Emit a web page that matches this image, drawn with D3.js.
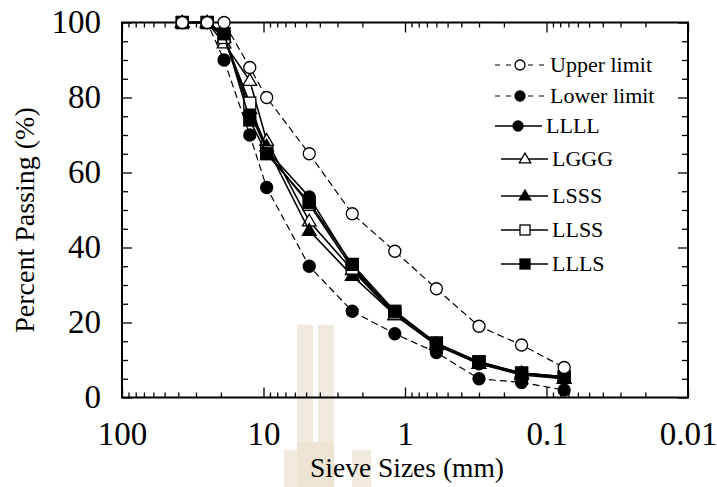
<!DOCTYPE html>
<html>
<head>
<meta charset="utf-8">
<script src="https://cdn.jsdelivr.net/npm/d3@7"></script>
<style>
  html, body { margin: 0; padding: 0; background: #fff; }
  svg { display: block; }
  text { font-family: "Liberation Serif", "Times New Roman", serif; fill: #000; }
</style>
</head>
<body>
<svg id="chart" width="717" height="487"></svg>
<script>
// Sieve sizes (mm) and percent passing for each gradation
const sieveSizes = [37.5, 25, 19, 12.5, 9.5, 4.75, 2.36, 1.18, 0.6, 0.3, 0.15, 0.075];
const upperLimit = [100, 100, 100, 88, 80, 65, 49, 39, 29, 19, 14, 8];
const lowerLimit = [100, 100, 90, 70, 56, 35, 23, 17, 12, 5, 4, 2];
const llll = [100, 100, 97, 76, 66, 53.5, 35, 22.5, 14.5, 9, 6.5, 5.5];
const lggg = [100, 100, 94.5, 84.5, 68.5, 47, 34, 22, 14, 9, 6, 5];
const lsss = [100, 100, 96, 77, 67, 44.5, 32.5, 22, 14, 9, 6.5, 5];
const llss = [100, 100, 96, 78.5, 65.5, 51.5, 34.5, 22.5, 14.5, 9.5, 6.5, 5.5];
const llls = [100, 100, 97, 74, 65, 52, 35.5, 23, 14.5, 9.5, 6.5, 5.5];

const xTickLabels = [100, 10, 1, 0.1, 0.01];
const yTickLabels = [0, 20, 40, 60, 80, 100];
const seriesNames = ["Upper limit", "Lower limit", "LLLL", "LGGG", "LSSS", "LLSS", "LLLS"];

const svg = d3.select("#chart");
const plotLeft = 122, plotRight = 688, plotTop = 22.5, plotBottom = 397.5;

const x = d3.scaleLog().domain([100, 0.01]).range([plotLeft, plotRight]);
const y = d3.scaleLinear().domain([0, 100]).range([plotBottom, plotTop]);

// faint background emblem
const emblem = svg.append("g").attr("fill", "#f1ebdf");
emblem.append("rect").attr("x", 297).attr("y", 325).attr("width", 16).attr("height", 162);
emblem.append("rect").attr("x", 318).attr("y", 325).attr("width", 16).attr("height", 162);
emblem.append("rect").attr("x", 284).attr("y", 450).attr("width", 19).attr("height", 37);
emblem.append("rect").attr("x", 352).attr("y", 450).attr("width", 19).attr("height", 37);
emblem.append("rect").attr("x", 297).attr("y", 442).attr("width", 37).attr("height", 45).attr("fill", "#ede4d4");

// minor / major tick values
const xMinor = [];
for (const d of [10, 1, 0.1, 0.01]) for (let k = 2; k <= 9; k++) xMinor.push(d * k);
const yMinor = d3.range(0, 101, 5).filter(v => v % 20 !== 0);

function addAxis(gen, tx, ty, values, size, labels) {
  const g = svg.append("g").attr("transform", `translate(${tx},${ty})`)
    .call(gen.tickValues(values).tickSizeInner(size).tickSizeOuter(0)
      .tickFormat(labels ? d => (d >= 1 ? d3.format("d")(d) : String(d)) : ""));
  g.select(".domain").remove();
  g.selectAll(".tick line").attr("stroke", "#000").attr("stroke-width", 1.3);
  return g;
}

// inward-pointing ticks on all four sides
addAxis(d3.axisBottom(x), 0, plotBottom, xMinor, -5, false);
addAxis(d3.axisTop(x), 0, plotTop, xMinor, -5, false);
addAxis(d3.axisTop(x), 0, plotTop, xTickLabels, -10, false);
const xAxis = addAxis(d3.axisBottom(x), 0, plotBottom, xTickLabels, -10, true);
xAxis.selectAll(".tick text").attr("y", 0).attr("dy", 0)
  .attr("transform", "translate(0,47)")
  .style("font-size", "33px").style("font-family", "Liberation Serif");

addAxis(d3.axisLeft(y), plotLeft, 0, yMinor, -6, false);
addAxis(d3.axisRight(y), plotRight, 0, yMinor, -6, false);
addAxis(d3.axisRight(y), plotRight, 0, yTickLabels, -10, false);
const yAxis = addAxis(d3.axisLeft(y), plotLeft, 0, yTickLabels, -10, true);
yAxis.selectAll(".tick text").attr("x", -21).attr("dy", "0.3em")
  .style("font-size", "33px").style("font-family", "Liberation Serif");

// frame
svg.append("rect").attr("x", plotLeft).attr("y", plotTop)
  .attr("width", plotRight - plotLeft).attr("height", plotBottom - plotTop)
  .attr("fill", "none").attr("stroke", "#000").attr("stroke-width", 2);

// axis titles
svg.append("text").attr("x", 407).attr("y", 477).attr("text-anchor", "middle")
  .style("font-size", "27.5px").text("Sieve Sizes (mm)");
svg.append("text").attr("transform", "translate(34,220) rotate(-90)").attr("text-anchor", "middle")
  .style("font-size", "28px").text("Percent Passing (%)");

// marker drawing
function marker(g, type, cx, cy, s) {
  if (type === "circle-open" || type === "circle-filled") {
    g.append("circle").attr("cx", cx).attr("cy", cy).attr("r", s)
      .attr("fill", type === "circle-open" ? "#fff" : "#000").attr("stroke", "#000").attr("stroke-width", 1.3);
  } else if (type === "square-open" || type === "square-filled") {
    g.append("rect").attr("x", cx - s).attr("y", cy - s).attr("width", 2 * s).attr("height", 2 * s)
      .attr("fill", type === "square-open" ? "#fff" : "#000").attr("stroke", "#000").attr("stroke-width", 1.3);
  } else {
    const h = s * 1.8, w = s * 2.1;
    g.append("path")
      .attr("d", `M${cx},${cy - h * 0.6}L${cx + w / 2},${cy + h * 0.4}L${cx - w / 2},${cy + h * 0.4}Z`)
      .attr("fill", type === "tri-open" ? "#fff" : "#000").attr("stroke", "#000").attr("stroke-width", 1.3);
  }
}

const series = [
  { name: seriesNames[2], values: llll, type: "circle-filled", dash: null, size: 6 },
  { name: seriesNames[3], values: lggg, type: "tri-open", dash: null, size: 6.5 },
  { name: seriesNames[4], values: lsss, type: "tri-filled", dash: null, size: 6.5 },
  { name: seriesNames[5], values: llss, type: "square-open", dash: null, size: 6 },
  { name: seriesNames[6], values: llls, type: "square-filled", dash: null, size: 6 },
  { name: seriesNames[1], values: lowerLimit, type: "circle-filled", dash: "7,4", size: 6 },
  { name: seriesNames[0], values: upperLimit, type: "circle-open", dash: "7,4", size: 6 }
];

const line = d3.line().x(d => x(d[0])).y(d => y(d[1]));

for (const s of series) {
  const pts = sieveSizes.map((d, i) => [d, s.values[i]]);
  const g = svg.append("g");
  g.append("path").attr("d", line(pts)).attr("fill", "none").attr("stroke", "#000")
    .attr("stroke-width", s.dash ? 1.2 : 1.6).attr("stroke-dasharray", s.dash);
  pts.forEach(p => marker(g, s.type, x(p[0]), y(p[1]), s.size));
}

// legend
const legendRows = [
  { s: series[6], yy: 65, x1: 495, x2: 548, mx: 520, tx: 550 },
  { s: series[5], yy: 96, x1: 495, x2: 548, mx: 520, tx: 550 },
  { s: series[0], yy: 126, x1: 495, x2: 542, mx: 518, tx: 546 },
  { s: series[1], yy: 159, x1: 501, x2: 548, mx: 525, tx: 552 },
  { s: series[2], yy: 196, x1: 501, x2: 548, mx: 525, tx: 552 },
  { s: series[3], yy: 230, x1: 501, x2: 548, mx: 525, tx: 552 },
  { s: series[4], yy: 264, x1: 501, x2: 548, mx: 525, tx: 552 }
];
const legend = svg.append("g");
for (const r of legendRows) {
  legend.append("line").attr("x1", r.x1).attr("x2", r.x2).attr("y1", r.yy).attr("y2", r.yy)
    .attr("stroke", "#000").attr("stroke-width", r.s.dash ? 1.2 : 1.6)
    .attr("stroke-dasharray", r.s.dash ? "5,6" : null);
  marker(legend, r.s.type, r.mx, r.yy, r.s.type.startsWith("tri") ? 5.5 : 5);
  legend.append("text").attr("x", r.tx).attr("y", r.yy).attr("dy", "0.34em")
    .style("font-size", "22px").text(r.s.name);
}
</script>
</body>
</html>
